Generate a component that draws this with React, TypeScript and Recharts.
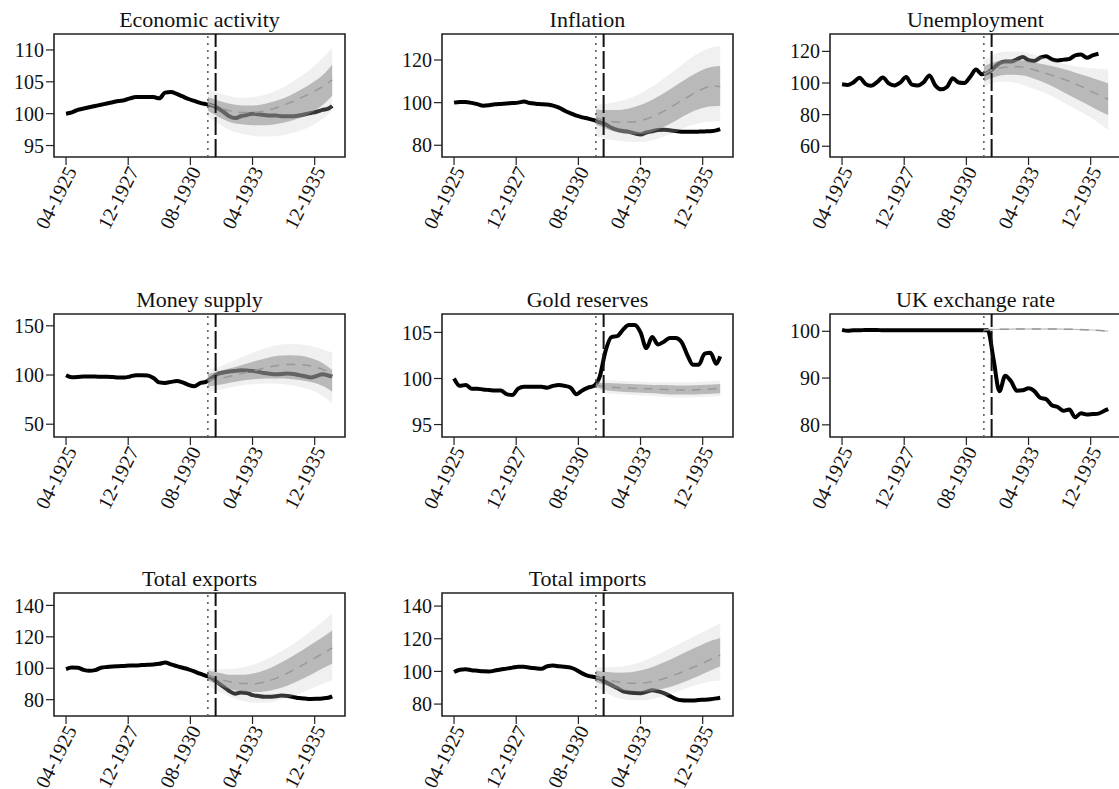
import { ComposedChart, Line, Area, XAxis, YAxis, ReferenceLine, ReferenceArea } from 'recharts';

// months counted from 04-1925 (t = 0)
const MONTHS = [
  0, 3, 6, 9, 12, 15, 18, 21,
  24, 27, 30, 33, 36, 39, 42, 45,
  48, 51, 54, 57, 60, 63, 66, 69,
  72, 75, 78, 81, 84, 87, 90, 93,
  96, 99, 102, 105, 108, 111, 114, 117,
  120, 123, 126, 129, 132, 135, 137,
];
const CF_MONTHS = [73, 79, 85, 91, 97, 103, 109, 115, 121, 127, 133, 137];
const X_TICKS = [0, 32, 64, 96, 128];
const X_DOMAIN: [number, number] = [-6.2, 143.6];
const T_START = 73; // 05-1931
const T_BREAK = 77; // 09-1931

// Economic activity
const ECON_ACT = [
  100.0, 100.2, 100.6, 100.8, 101.0, 101.2, 101.4, 101.6,
  101.8, 102.0, 102.1, 102.4, 102.6, 102.6, 102.6, 102.6,
  102.4, 103.3, 103.4, 103.1, 102.7, 102.3, 102.0, 101.7,
  101.5, 101.3, 100.9, 100.3, 99.6, 99.3, 99.6, 99.8,
  100.0, 99.9, 99.8, 99.7, 99.7, 99.6, 99.6, 99.6,
  99.7, 99.9, 100.1, 100.3, 100.6, 100.8, 101.2,
];
const ECON_MED = [101.6, 100.9, 100.4, 100.2, 100.2, 100.5, 101.0, 101.7, 102.5, 103.4, 104.4, 105.3];
const ECON_IN_HI = [102.6, 102.0, 101.5, 101.3, 101.3, 101.6, 102.1, 102.8, 103.8, 104.9, 106.3, 107.7];
const ECON_IN_LO = [100.5, 99.4, 98.6, 98.3, 98.2, 98.2, 98.4, 98.8, 99.4, 100.3, 101.6, 102.8];
const ECON_OUT_HI = [103.9, 103.2, 102.7, 102.5, 102.6, 103.0, 103.7, 104.7, 105.9, 107.3, 109.0, 110.3];
const ECON_OUT_LO = [99.5, 98.3, 97.3, 96.8, 96.5, 96.4, 96.5, 96.9, 97.4, 98.2, 99.4, 100.5];

// Inflation
const INFL_ACT = [
  100.0, 100.3, 100.3, 99.9, 99.3, 98.6, 98.8, 99.2,
  99.4, 99.6, 99.8, 100.0, 100.5, 99.8, 99.5, 99.3,
  99.1, 98.6, 97.7, 96.2, 95.0, 93.9, 93.1, 92.5,
  91.8, 90.8, 89.8, 88.2, 87.2, 86.7, 86.3, 85.6,
  85.1, 86.0, 86.6, 87.2, 87.3, 87.0, 86.7, 86.4,
  86.3, 86.3, 86.4, 86.5, 86.6, 87.0, 87.6,
];
const INFL_MED = [92.9, 91.5, 90.8, 90.9, 91.8, 93.7, 96.5, 99.8, 103.0, 106.0, 107.8, 107.5];
const INFL_IN_HI = [96.8, 96.5, 96.6, 97.5, 99.2, 101.8, 105.0, 108.5, 112.0, 115.0, 116.8, 117.2];
const INFL_IN_LO = [89.7, 87.5, 85.9, 85.2, 85.3, 86.6, 89.0, 92.0, 95.0, 97.2, 98.3, 98.4];
const INFL_OUT_HI = [99.1, 99.6, 100.6, 102.3, 104.8, 108.0, 112.0, 116.0, 120.5, 123.8, 126.0, 126.6];
const INFL_OUT_LO = [84.2, 82.8, 82.0, 81.5, 81.6, 82.6, 84.3, 86.5, 89.0, 90.6, 91.2, 91.3];

// Unemployment
const UNEMP_ACT = [
  99.2, 98.8, 100.5, 103.3, 99.5, 98.3, 100.5, 103.5,
  99.8, 98.5, 100.3, 103.8, 99.0, 98.5, 100.5, 104.8,
  98.5, 96.0, 97.5, 103.0, 100.3, 100.0, 104.0, 108.5,
  105.5, 106.5, 109.5, 112.5, 113.6, 113.6, 115.0, 116.4,
  114.5, 114.0, 116.0, 117.0, 115.0, 114.3, 114.8, 115.2,
  117.5, 118.0, 116.0, 117.5, 118.5, null, null,
];
const UNEMP_MED = [105.5, 109.0, 110.0, 110.3, 109.0, 106.8, 104.5, 102.0, 99.0, 95.5, 92.0, 89.7];
const UNEMP_IN_HI = [110.5, 113.5, 114.5, 114.5, 113.5, 112.0, 110.5, 108.5, 106.2, 104.0, 101.5, 99.9];
const UNEMP_IN_LO = [101.0, 104.0, 105.2, 105.0, 103.5, 100.8, 97.5, 93.5, 89.8, 86.0, 82.0, 79.7];
const UNEMP_OUT_HI = [114.0, 118.5, 120.0, 120.0, 118.5, 116.5, 114.0, 112.0, 110.5, 109.5, 108.8, 108.5];
const UNEMP_OUT_LO = [97.5, 100.5, 100.8, 99.5, 97.0, 94.5, 91.0, 87.0, 83.0, 79.0, 74.0, 70.2];

// Money supply
const MONEY_ACT = [
  99.8, 97.8, 98.0, 98.4, 98.5, 98.5, 98.2, 98.3,
  98.0, 97.5, 97.5, 98.5, 99.8, 99.8, 99.6, 97.0,
  92.5, 92.0, 93.0, 93.8, 92.5, 90.0, 88.6, 91.8,
  93.0, 97.0, 101.0, 102.5, 103.5, 104.2, 104.8, 104.5,
  104.2, 103.2, 102.0, 101.3, 100.8, 101.0, 101.5, 101.0,
  99.9, 98.8, 97.5, 99.0, 100.8, 99.5, 98.3,
];
const MONEY_MED = [94.7, 96.5, 99.0, 101.8, 104.5, 107.5, 109.6, 110.8, 110.6, 108.8, 105.0, 101.5];
const MONEY_IN_HI = [101.0, 104.0, 107.0, 110.5, 114.0, 117.0, 119.5, 120.2, 119.5, 116.5, 111.0, 105.0];
const MONEY_IN_LO = [88.0, 90.0, 92.5, 94.5, 95.8, 96.4, 96.4, 96.0, 94.8, 92.5, 88.0, 83.0];
const MONEY_OUT_HI = [105.0, 108.5, 113.5, 118.5, 123.5, 127.5, 130.5, 131.5, 131.0, 129.0, 125.5, 123.0];
const MONEY_OUT_LO = [83.0, 85.0, 87.5, 89.5, 90.8, 91.3, 91.0, 89.8, 87.5, 84.0, 77.5, 71.0];

// Gold reserves
const GOLD_ACT = [
  100.0, 99.2, 99.3, 98.9, 98.9, 98.8, 98.75, 98.7,
  98.7, 98.3, 98.2, 98.9, 99.1, 99.1, 99.1, 99.1,
  99.0, 99.2, 99.3, 99.2, 99.0, 98.3, 98.7, 99.0,
  99.2, 100.2, 103.0, 104.5, 104.6, 105.3, 105.8, 105.8,
  105.0, 103.3, 104.5, 103.7, 104.0, 104.4, 104.4, 104.0,
  102.6, 101.5, 101.5, 102.7, 102.8, 101.6, 102.4,
];
const GOLD_MED = [99.3, 99.1, 99.0, 98.95, 98.9, 98.85, 98.8, 98.75, 98.75, 98.8, 98.85, 98.9];
const GOLD_IN_HI = [99.5, 99.5, 99.45, 99.4, 99.35, 99.3, 99.3, 99.25, 99.25, 99.3, 99.35, 99.4];
const GOLD_IN_LO = [99.1, 98.7, 98.6, 98.5, 98.45, 98.4, 98.3, 98.25, 98.25, 98.3, 98.35, 98.4];
const GOLD_OUT_HI = [99.7, 99.8, 99.75, 99.7, 99.65, 99.6, 99.6, 99.6, 99.6, 99.65, 99.7, 99.75];
const GOLD_OUT_LO = [98.9, 98.4, 98.3, 98.2, 98.15, 98.1, 98.0, 97.95, 97.95, 98.0, 98.05, 98.1];

// UK exchange rate
const UK_ACT = [
  100.3, 100.1, 100.2, 100.2, 100.3, 100.3, 100.3, 100.2,
  100.2, 100.2, 100.2, 100.2, 100.2, 100.2, 100.2, 100.2,
  100.2, 100.2, 100.2, 100.2, 100.2, 100.2, 100.2, 100.2,
  100.2, 100.2, 94.0, 87.2, 90.5, 89.3, 87.3, 87.4,
  87.8, 87.2, 85.8, 85.5, 84.2, 83.8, 83.0, 83.3,
  81.6, 82.5, 82.2, 82.3, 82.4, 83.0, 83.4,
];
const UK_MED = [100.3, 100.4, 100.45, 100.5, 100.5, 100.5, 100.5, 100.45, 100.4, 100.3, 100.15, 100.0];
const UK_IN_HI = [100.35, 100.5, 100.55, 100.6, 100.6, 100.6, 100.6, 100.55, 100.5, 100.4, 100.25, 100.1];
const UK_IN_LO = [100.25, 100.3, 100.35, 100.4, 100.4, 100.4, 100.4, 100.35, 100.3, 100.2, 100.05, 99.9];
const UK_OUT_HI = [100.4, 100.55, 100.6, 100.65, 100.65, 100.65, 100.65, 100.6, 100.55, 100.45, 100.3, 100.15];
const UK_OUT_LO = [100.2, 100.25, 100.3, 100.35, 100.35, 100.35, 100.35, 100.3, 100.25, 100.15, 100.0, 99.85];

// Total exports
const EXP_ACT = [
  99.5, 100.4, 100.3, 99.0, 98.4, 98.8, 100.3, 100.8,
  101.1, 101.3, 101.5, 101.7, 101.8, 102.0, 102.2, 102.4,
  102.8, 103.6, 102.5, 101.3, 100.3, 99.3, 98.0, 96.5,
  95.2, 93.8, 91.0, 88.3, 85.5, 83.8, 84.5, 84.2,
  82.9, 82.3, 81.8, 81.8, 82.2, 82.6, 82.3, 81.7,
  81.0, 80.7, 80.5, 80.6, 80.8, 81.2, 82.1,
];
const EXP_MED = [95.4, 93.0, 91.2, 90.3, 90.2, 91.5, 94.0, 97.5, 101.5, 105.8, 110.0, 113.0];
const EXP_IN_HI = [98.6, 97.0, 95.8, 95.8, 96.8, 99.0, 102.5, 106.5, 111.0, 115.8, 120.5, 124.0];
const EXP_IN_LO = [92.2, 89.0, 86.5, 85.2, 84.8, 85.4, 87.0, 89.5, 92.8, 96.5, 100.5, 102.8];
const EXP_OUT_HI = [99.6, 99.4, 99.5, 100.5, 102.5, 105.5, 109.5, 114.0, 119.0, 124.5, 130.5, 135.0];
const EXP_OUT_LO = [89.1, 84.8, 81.5, 79.2, 78.0, 78.0, 79.5, 81.5, 84.2, 87.5, 90.5, 92.3];

// Total imports
const IMP_ACT = [
  99.6, 101.0, 101.3, 100.7, 100.4, 100.1, 100.0, 100.5,
  101.2, 101.7, 102.3, 102.9, 102.8, 102.3, 101.9, 101.6,
  103.2, 103.6, 103.1, 102.8, 102.3, 100.9, 98.8, 97.3,
  96.6, 95.5, 93.5, 91.6, 89.8, 87.8, 87.1, 86.8,
  86.7, 87.5, 88.4, 87.8, 86.7, 85.0, 83.2, 82.3,
  82.2, 82.2, 82.5, 82.7, 83.0, 83.5, 83.9,
];
const IMP_MED = [96.5, 94.8, 93.5, 92.8, 92.9, 94.0, 96.0, 98.5, 101.5, 104.5, 107.8, 110.0];
const IMP_IN_HI = [100.6, 99.6, 99.2, 99.5, 100.8, 103.0, 106.0, 109.3, 112.8, 116.0, 119.0, 120.5];
const IMP_IN_LO = [93.5, 91.0, 89.0, 87.8, 87.5, 88.2, 89.8, 92.0, 94.8, 97.8, 101.0, 103.0];
const IMP_OUT_HI = [102.7, 102.5, 102.8, 104.0, 106.2, 109.3, 112.8, 116.2, 119.8, 123.3, 127.0, 129.5];
const IMP_OUT_LO = [90.4, 86.5, 83.5, 82.3, 82.2, 83.2, 85.0, 87.5, 90.3, 92.5, 94.0, 94.5];

const FONT = "'Liberation Serif', 'Times New Roman', Times, serif";
const COL_W = 388;
const BOX_TOPS = [34, 314, 593];
const PLOT_LEFT = 54;
const PLOT_W = 291;
const PLOT_H = 123;
const TOP_PAD = 5;

type Row = { t: number; v: number };

const actualRows = (vals: (number | null)[]): Row[] =>
  MONTHS.map((t, i) => ({ t, v: vals[i] as number })).filter((r) => r.v != null);

const cfRows = (med: number[], inLo: number[], inHi: number[], outLo: number[], outHi: number[]) =>
  CF_MONTHS.map((t, i) => ({
    t,
    med: med[i],
    inner: [inLo[i], inHi[i]],
    outer: [outLo[i], outHi[i]],
  }));

const PANELS = [
  { title: 'Economic activity', domain: [93.2, 112.5], ticks: [95, 100, 105, 110], act: ECON_ACT, cf: [ECON_MED, ECON_IN_LO, ECON_IN_HI, ECON_OUT_LO, ECON_OUT_HI] },
  { title: 'Inflation', domain: [74.5, 132.2], ticks: [80, 100, 120], act: INFL_ACT, cf: [INFL_MED, INFL_IN_LO, INFL_IN_HI, INFL_OUT_LO, INFL_OUT_HI] },
  { title: 'Unemployment', domain: [53.2, 131], ticks: [60, 80, 100, 120], act: UNEMP_ACT, cf: [UNEMP_MED, UNEMP_IN_LO, UNEMP_IN_HI, UNEMP_OUT_LO, UNEMP_OUT_HI] },
  { title: 'Money supply', domain: [37, 162], ticks: [50, 100, 150], act: MONEY_ACT, cf: [MONEY_MED, MONEY_IN_LO, MONEY_IN_HI, MONEY_OUT_LO, MONEY_OUT_HI] },
  { title: 'Gold reserves', domain: [93.65, 107], ticks: [95, 100, 105], act: GOLD_ACT, cf: [GOLD_MED, GOLD_IN_LO, GOLD_IN_HI, GOLD_OUT_LO, GOLD_OUT_HI] },
  { title: 'UK exchange rate', domain: [77.4, 103.7], ticks: [80, 90, 100], act: UK_ACT, cf: [UK_MED, UK_IN_LO, UK_IN_HI, UK_OUT_LO, UK_OUT_HI] },
  { title: 'Total exports', domain: [69.6, 147.9], ticks: [80, 100, 120, 140], act: EXP_ACT, cf: [EXP_MED, EXP_IN_LO, EXP_IN_HI, EXP_OUT_LO, EXP_OUT_HI] },
  { title: 'Total imports', domain: [72.7, 148], ticks: [80, 100, 120, 140], act: IMP_ACT, cf: [IMP_MED, IMP_IN_LO, IMP_IN_HI, IMP_OUT_LO, IMP_OUT_HI] },
];

const fmtMonth = (t: number) => {
  const m0 = 3 + t;
  const year = 1925 + Math.floor(m0 / 12);
  const month = (m0 % 12) + 1;
  return `${String(month).padStart(2, '0')}-${year}`;
};

const XTick = (props: any) => {
  const { x, y, payload } = props;
  const ax = x + 5;
  const ay = y + 1;
  return (
    <text
      x={ax}
      y={ay}
      transform={`rotate(-63 ${ax} ${ay})`}
      textAnchor="end"
      dy="0.35em"
      fontSize={20}
      fontFamily={FONT}
      fill="#111"
    >
      {fmtMonth(payload.value)}
    </text>
  );
};

function Panel({ p, index }: { p: (typeof PANELS)[number]; index: number }) {
  const col = index % 3;
  const row = Math.floor(index / 3);
  const boxTop = BOX_TOPS[row];
  const left = col * COL_W;
  const act = actualRows(p.act);
  const cf = cfRows(p.cf[0], p.cf[1], p.cf[2], p.cf[3], p.cf[4]);
  const [y0, y1] = p.domain;

  return (
    <>
      <div
        style={{
          position: 'absolute',
          left: left + PLOT_LEFT,
          width: PLOT_W,
          top: boxTop - 25.4,
          fontSize: 22,
          lineHeight: '22px',
          textAlign: 'center',
          fontFamily: FONT,
          color: '#111',
          whiteSpace: 'nowrap',
        }}
      >
        {p.title}
      </div>
      <div style={{ position: 'absolute', left, top: boxTop - TOP_PAD }}>
        <ComposedChart
          width={COL_W}
          height={TOP_PAD + PLOT_H + 91}
          margin={{ top: TOP_PAD, right: COL_W - PLOT_LEFT - PLOT_W, bottom: 0, left: 0 }}
        >
          <XAxis
            type="number"
            dataKey="t"
            domain={X_DOMAIN}
            ticks={X_TICKS}
            interval={0}
            allowDataOverflow
            axisLine={false}
            tickSize={8}
            tickLine={{ stroke: '#222', strokeWidth: 1.2 }}
            tick={<XTick />}
            height={91}
          />
          <YAxis
            type="number"
            domain={[y0, y1]}
            ticks={p.ticks}
            interval={0}
            allowDataOverflow
            width={PLOT_LEFT}
            axisLine={false}
            tickSize={8}
            tickLine={{ stroke: '#222', strokeWidth: 1.2 }}
            tick={{ fill: '#111', fontSize: 20, fontFamily: FONT }}
          />
          {/* actual path drawn as an unfilled area so the bands can sit on top of it */}
          <Area
            data={act}
            dataKey="v"
            type="monotone"
            stroke="#000"
            strokeWidth={4}
            fill="none"
            fillOpacity={0}
            isAnimationActive={false}
          />
          <Area
            data={cf}
            dataKey="outer"
            type="monotone"
            stroke="none"
            fill="rgb(200,200,200)"
            fillOpacity={0.27}
            isAnimationActive={false}
          />
          <Area
            data={cf}
            dataKey="inner"
            type="monotone"
            stroke="none"
            fill="rgb(139,139,139)"
            fillOpacity={0.54}
            isAnimationActive={false}
          />
          <Line
            data={cf}
            dataKey="med"
            type="monotone"
            stroke="#999"
            strokeWidth={1.5}
            strokeDasharray="9 7"
            dot={false}
            isAnimationActive={false}
          />
          <ReferenceLine x={T_START} stroke="#555" strokeWidth={1.5} strokeDasharray="2 5" />
          <ReferenceLine x={T_BREAK} stroke="#111" strokeWidth={2} strokeDasharray="18 4" />
          <ReferenceArea
            x1={X_DOMAIN[0]}
            x2={X_DOMAIN[1]}
            y1={y0}
            y2={y1}
            fill="none"
            fillOpacity={0}
            stroke="#222"
            strokeWidth={1.6}
          />
        </ComposedChart>
      </div>
    </>
  );
}

export default function App() {
  return (
    <div
      style={{
        position: 'absolute',
        left: 0,
        top: 0,
        width: 1119,
        height: 789,
        overflow: 'hidden',
        background: '#fff',
      }}
    >
      {PANELS.map((p, i) => (
        <Panel key={p.title} p={p} index={i} />
      ))}
    </div>
  );
}
